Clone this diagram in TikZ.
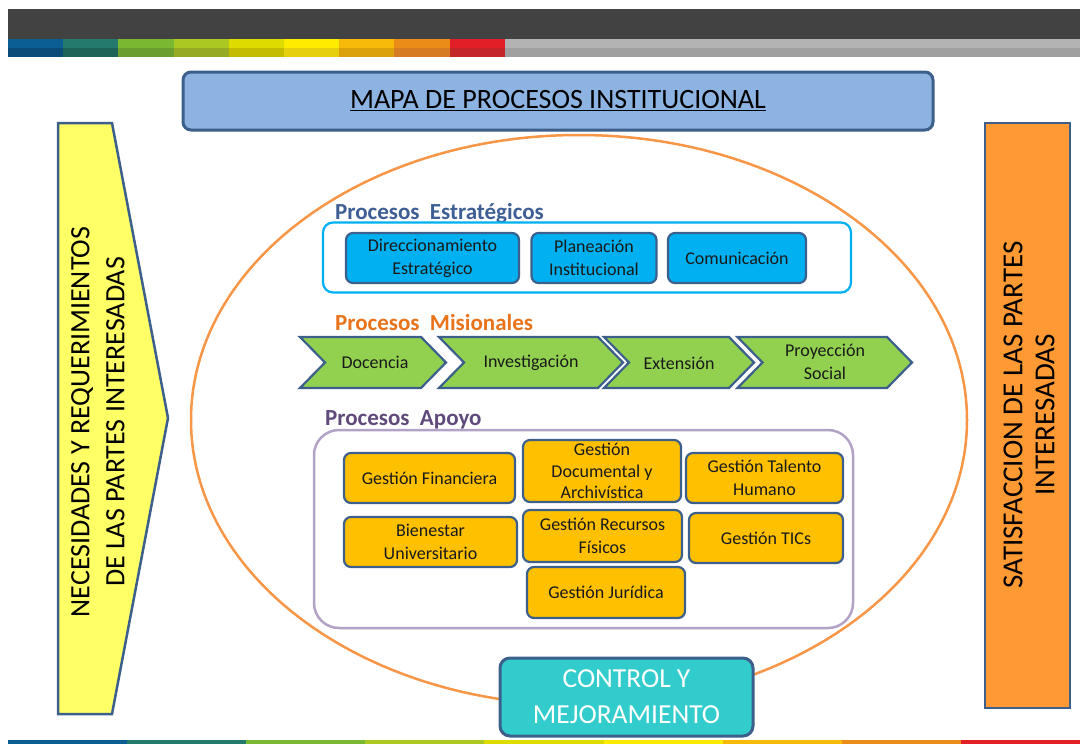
\documentclass[tikz,border=0pt]{standalone}
\usepackage{fontspec}
\setmainfont{Carlito}
\usetikzlibrary{shapes.geometric}
\definecolor{darkbar}{HTML}{424242}
\definecolor{bordblue}{HTML}{3C5F8C}
\definecolor{titlefill}{HTML}{8DB3E2}
\definecolor{cyanfill}{HTML}{00B0F0}
\definecolor{greenfill}{HTML}{92D050}
\definecolor{goldfill}{HTML}{FFC000}
\definecolor{tealfill}{HTML}{33CCCC}
\definecolor{yellowfill}{HTML}{FFFF66}
\definecolor{orangefill}{HTML}{FF9933}
\definecolor{ellorange}{HTML}{F79646}
\definecolor{lavender}{HTML}{B3A2C7}
\definecolor{estrblue}{HTML}{3D5F95}
\definecolor{misorange}{HTML}{E8731A}
\definecolor{apoyopurple}{HTML}{604A7B}
\definecolor{txt}{HTML}{1A1A1A}
% stripe colours (top/bottom halves)
\definecolor{sA}{HTML}{0B5E91}\definecolor{sAd}{HTML}{0A4B7A}
\definecolor{sB}{HTML}{257A6E}\definecolor{sBd}{HTML}{1E6358}
\definecolor{sC}{HTML}{7AB831}\definecolor{sCd}{HTML}{6A9E2E}
\definecolor{sD}{HTML}{ABC722}\definecolor{sDd}{HTML}{97AA24}
\definecolor{sE}{HTML}{DDDB00}\definecolor{sEd}{HTML}{C4BC00}
\definecolor{sF}{HTML}{FFEB00}\definecolor{sFd}{HTML}{E6CF0E}
\definecolor{sG}{HTML}{F7B90A}\definecolor{sGd}{HTML}{DCA20A}
\definecolor{sH}{HTML}{EB8C19}\definecolor{sHd}{HTML}{D67B22}
\definecolor{sI}{HTML}{E21F26}\definecolor{sId}{HTML}{C42528}
\definecolor{sJ}{HTML}{B3B3B3}\definecolor{sJd}{HTML}{A0A0A0}
\tikzset{
  ibox/.style={draw=bordblue, line width=2.2pt, rounded corners=7pt, align=center,
    font=\fontsize{18}{23}\selectfont, text=txt, inner sep=0pt},
  bluebox/.style={ibox, fill=cyanfill},
  goldbox/.style={ibox, fill=goldfill},
  chev/.style={draw=bordblue, line width=2.2pt, fill=greenfill, line join=miter},
  chevtext/.style={align=center, font=\fontsize{18}{23}\selectfont, text=txt, inner sep=0pt},
  seclabel/.style={anchor=base west, font=\bfseries\fontsize{23}{26}\selectfont, inner sep=0pt},
}
\begin{document}
\begin{tikzpicture}[x=1pt,y=-1pt]
\useasboundingbox (0,0) rectangle (1080,744);
% top bar
\fill[darkbar] (8,9) rectangle (1080,39);
\foreach \c [count=\i from 0] in {sA,sB,sC,sD,sE,sF,sG,sH,sI}{
  \fill[\c] ({8+55.2*\i},39) rectangle ({8+55.2*(\i+1)},48);
  \fill[\c d] ({8+55.2*\i},48) rectangle ({8+55.2*(\i+1)},57);
}
\fill[sJ] (504.8,39) rectangle (1080,48);
\fill[sJd] (504.8,48) rectangle (1080,57);
% bottom stripe
\foreach \c [count=\i from 0] in {sA,sB,sC,sD,sE,sF,sG,sH,sI}{
  \fill[\c] ({8+119.1*\i},740) rectangle ({8+119.1*(\i+1)},744);
}
% title
\node[draw=bordblue, line width=3pt, fill=titlefill, rounded corners=8pt,
  minimum width=750pt, minimum height=58pt, inner sep=0pt,
  font=\fontsize{28}{32}\selectfont] (title) at (558,101) {\underline{MAPA DE PROCESOS INSTITUCIONAL}};
% big ellipse
\node[draw=ellorange, line width=2.5pt, ellipse, minimum width=776pt, minimum height=570pt, inner sep=0pt] (ell) at (579,420) {};
% left arrow
\draw[fill=yellowfill, draw=bordblue, line width=2.5pt, line join=miter] (58,123) -- (112,123) -- (168,418) -- (112,714) -- (58,714) -- cycle;
\node[rotate=90, align=center, font=\fontsize{28}{35}\selectfont, inner sep=0pt] (need) at (98,422)
  {NECESIDADES Y REQUERIMIENTOS\\DE LAS PARTES INTERESADAS};
% right box
\node[draw=bordblue, line width=2.5pt, fill=orangefill, minimum width=85pt, minimum height=585pt, inner sep=0pt] (sat) at (1027.5,415.5) {};
\node[rotate=90, align=center, font=\fontsize{29}{32}\selectfont, inner sep=0pt] (sattext) at (1029,415)
  {SATISFACCION DE LAS PARTES\\INTERESADAS};
% Estrategicos
\node[seclabel, text=estrblue] (lestr) at (335,219) {Procesos~ Estratégicos};
\node[draw=cyanfill, line width=2.2pt, rounded corners=10pt, minimum width=528pt, minimum height=70pt, inner sep=0pt] (estr) at (587,257.5) {};
\node[bluebox, minimum width=173pt, minimum height=50pt] (dir) at (432.5,258) {Direccionamiento\\Estratégico};
\node[bluebox, minimum width=125pt, minimum height=50pt] (plan) at (594,258) {Planeación\\Institucional};
\node[bluebox, minimum width=138pt, minimum height=50pt] (com) at (737,258) {Comunicación};
% Misionales
\node[seclabel, text=misorange] (lmis) at (335,330) {Procesos~ Misionales};
\draw[chev] (300,337) -- (421,337) -- (446,362.5) -- (421,388) -- (300,388) -- (325,362.5) -- cycle;
\node[chevtext] (doc1) at (375,362) {Docencia};
\draw[chev] (439,337) -- (598,337) -- (623,362.5) -- (598,388) -- (439,388) -- (464,362.5) -- cycle;
\node[chevtext] (inv) at (531,363) {Investigación};
\draw[chev] (604,337) -- (729,337) -- (754,362.5) -- (729,388) -- (604,388) -- (629,362.5) -- cycle;
\node[chevtext] (ext) at (679,363) {Extensión};
\draw[chev] (737.5,337) -- (887,337) -- (912,362.5) -- (887,388) -- (737.5,388) -- (762.5,362.5) -- cycle;
\node[chevtext] (proy) at (825,362) {Proyección\\Social};
% Apoyo
\node[seclabel, text=apoyopurple] (lapo) at (325,425) {Procesos~ Apoyo};
\node[draw=lavender, line width=2.5pt, rounded corners=25pt, minimum width=539pt, minimum height=198pt, inner sep=0pt] (apo) at (583.5,529) {};
\node[goldbox, minimum width=171pt, minimum height=50pt] (fin) at (429.5,478) {Gestión Financiera};
\node[goldbox, minimum width=158pt, minimum height=62pt, font=\fontsize{18}{21.5}\selectfont] (gdoc) at (602,471) {Gestión\\Documental y\\Archivística};
\node[goldbox, minimum width=157pt, minimum height=50pt] (tal) at (764.5,478) {Gestión Talento\\Humano};
\node[goldbox, minimum width=173pt, minimum height=50pt] (bien) at (430.5,542) {Bienestar\\Universitario};
\node[goldbox, minimum width=159pt, minimum height=52pt] (rec) at (602.5,536) {Gestión Recursos\\Físicos};
\node[goldbox, minimum width=154pt, minimum height=50pt] (tic) at (766,538) {Gestión TICs};
\node[goldbox, minimum width=158pt, minimum height=51pt] (jur) at (606,592.5) {Gestión Jurídica};
% Control
\node[draw=bordblue, line width=3pt, fill=tealfill, rounded corners=10pt, minimum width=253pt, minimum height=78pt,
  inner sep=0pt, align=center, text=white, font=\fontsize{27.5}{36}\selectfont] (ctrl) at (626.5,697) {CONTROL Y\\MEJORAMIENTO};
\end{tikzpicture}
\end{document}
